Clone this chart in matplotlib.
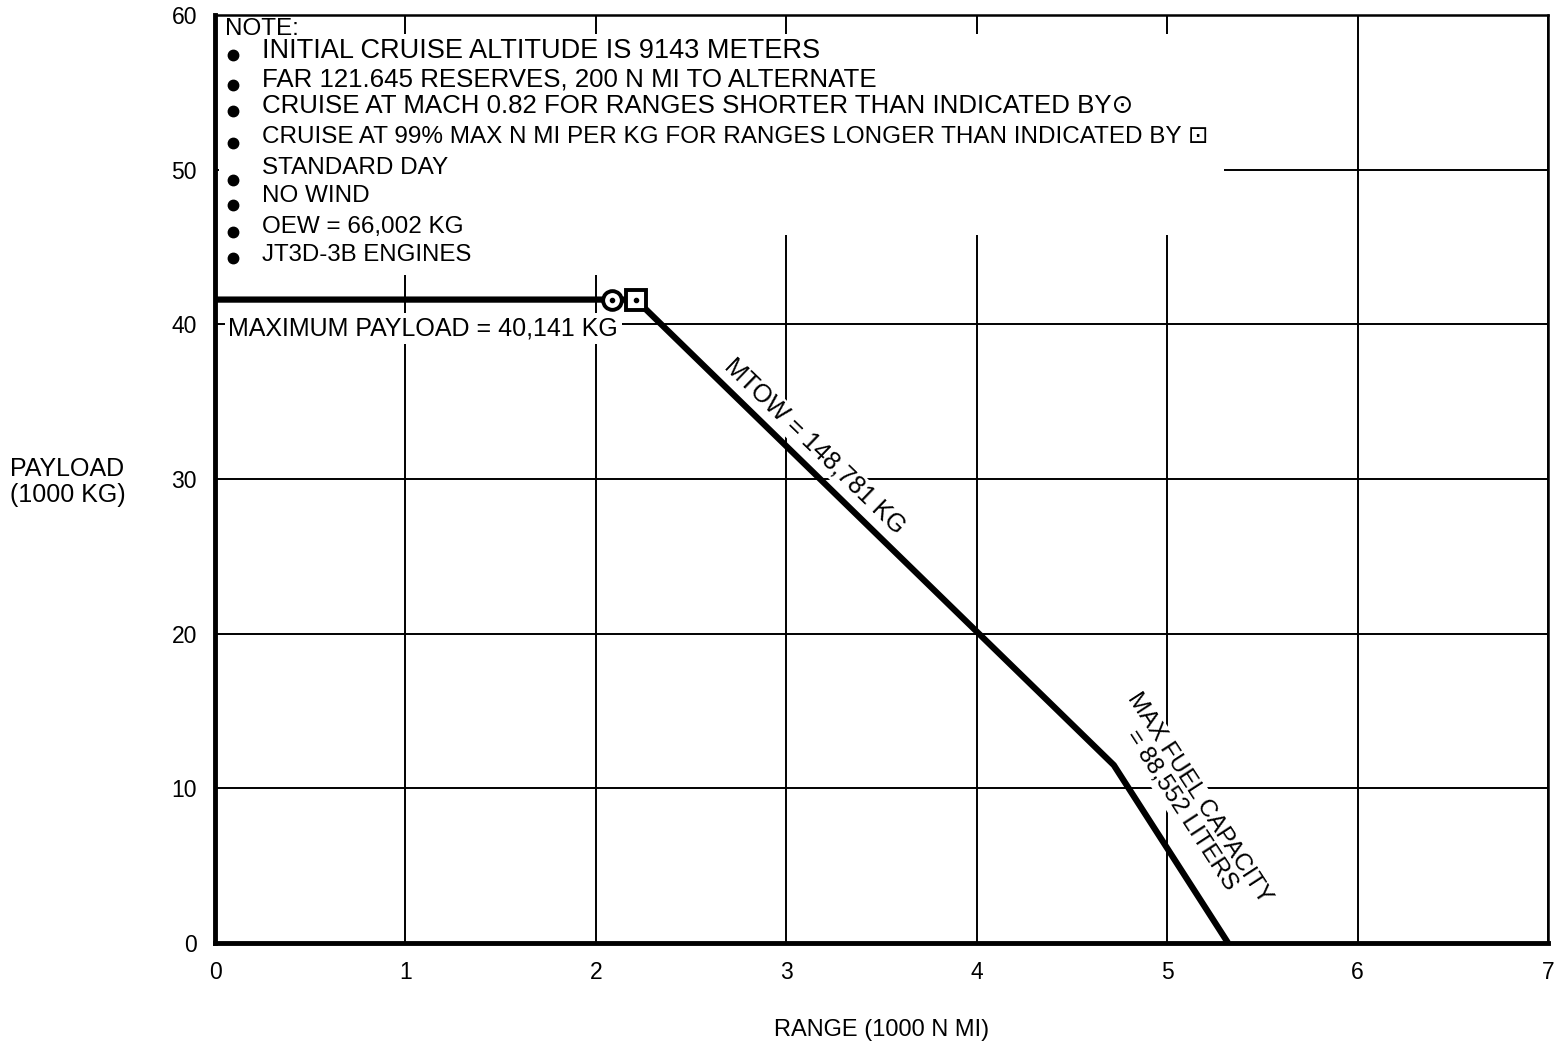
import matplotlib
matplotlib.use("Agg")
import matplotlib.pyplot as plt
from matplotlib.patches import Rectangle

plt.rcParams['font.family'] = ['Liberation Sans', 'DejaVu Sans']

# ---- data ----
range_k = [0.0, 2.21, 4.72, 5.32]
payload_k = [41.6, 41.6, 11.5, 0.0]
mach_marker = (2.085, 41.6)
maxnm_marker = (2.21, 41.6)
x_ticks = [0, 1, 2, 3, 4, 5, 6, 7]
y_ticks = [0, 10, 20, 30, 40, 50, 60]
note_title = "NOTE:"
note_lines = [
    "INITIAL CRUISE ALTITUDE IS 9143 METERS",
    "FAR 121.645 RESERVES, 200 N MI TO ALTERNATE",
    "CRUISE AT MACH 0.82 FOR RANGES SHORTER THAN INDICATED BY\u2299",
    "CRUISE AT 99% MAX N MI PER KG FOR RANGES LONGER THAN INDICATED BY \u22A1",
    "STANDARD DAY",
    "NO WIND",
    "OEW = 66,002 KG",
    "JT3D-3B ENGINES",
]

fig = plt.figure(figsize=(15.64, 10.46), dpi=100)
ax = fig.add_axes([215/1564, 1-943/1046, (1548-215)/1564, (943-15)/1046])

ax.set_xlim(0, 7)
ax.set_ylim(0, 60)
ax.set_xticks(x_ticks)
ax.set_yticks(y_ticks)
ax.tick_params(length=0, labelsize=16.5, pad=13)
ax.set_axisbelow(True)
ax.grid(True, color='black', linewidth=1.4)

for s in ['top', 'right']:
    ax.spines[s].set_linewidth(1.8)
for s in ['left', 'bottom']:
    ax.spines[s].set_linewidth(3.5)

# white masks for the note area
ax.add_patch(Rectangle((0.02, 45.8), 5.28, 13.0, facecolor='white', edgecolor='none', zorder=1))
ax.add_patch(Rectangle((0.02, 43.2), 2.5, 2.7, facecolor='white', edgecolor='none', zorder=1))

# payload-range line
ax.plot(range_k, payload_k, color='black', linewidth=4.5, solid_capstyle='butt',
        solid_joinstyle='round', zorder=4)

# markers
ax.plot(*mach_marker, marker='o', markersize=13.5, markerfacecolor='white',
        markeredgecolor='black', markeredgewidth=2.8, zorder=5)
ax.plot(*mach_marker, marker='o', markersize=3, color='black', zorder=6)
ax.plot(*maxnm_marker, marker='s', markersize=14, markerfacecolor='white',
        markeredgecolor='black', markeredgewidth=2.8, zorder=5)
ax.plot(*maxnm_marker, marker='o', markersize=3, color='black', zorder=6)

# note text
ax.text(0.055, 59.1, note_title, fontsize=17.5, va='center', ha='left', zorder=3)
ys = [57.7, 55.8, 54.1, 52.1, 50.1, 48.3, 46.3, 44.5]
sizes = [19.5, 18.6, 18.6, 17.5, 17.5, 17.5, 17.5, 17.3]
bullet_dy = [0.3, 0.3, 0.3, 0.4, 0.8, 0.6, 0.3, 0.2]
for yy, line, fs, dy in zip(ys, note_lines, sizes, bullet_dy):
    ax.plot(0.095, yy - dy, marker='o', markersize=7.5, color='black', zorder=3)
    ax.text(0.245, yy, line, fontsize=fs, va='center', ha='left', zorder=3)

# labels on chart
ax.text(0.07, 39.7, "MAXIMUM PAYLOAD = 40,141 KG", fontsize=18, va='center', ha='left',
        zorder=3, bbox=dict(facecolor='white', edgecolor='none', pad=2.5))
ax.text(3.15, 32.1, "MTOW = 148,781 KG", fontsize=18, rotation=-44,
        rotation_mode='anchor', va='center', ha='center', zorder=3,
        bbox=dict(facecolor='white', edgecolor='none', pad=1))
ax.text(5.12, 9.0, "MAX FUEL CAPACITY\n= 88,552 LITERS", fontsize=17.5, rotation=-57,
        rotation_mode='anchor', va='center', ha='center', multialignment='center',
        linespacing=1.0, zorder=3,
        bbox=dict(facecolor='white', edgecolor='none', pad=1))

fig.text(10/1564, 1-482/1046, "PAYLOAD\n(1000 KG)", fontsize=18, ha='left', va='center',
         multialignment='left', linespacing=1.15)
fig.text(882/1564, 1-1030/1046, "RANGE (1000 N MI)", fontsize=17, ha='center', va='center')

fig.savefig("out.png", dpi=100, facecolor='white')
